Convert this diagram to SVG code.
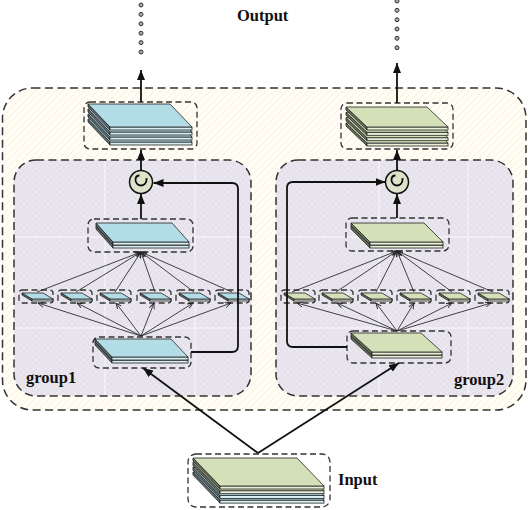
<svg xmlns="http://www.w3.org/2000/svg" width="528" height="510" viewBox="0 0 528 510">
<style>
.lbl{font-family:"Liberation Serif","Times New Roman",serif;font-weight:bold;font-size:16.5px;fill:#111}
.dash{fill:none;stroke:#333;stroke-width:1.3;stroke-dasharray:6 3.5}
.big{stroke:#333;stroke-width:1.5;stroke-dasharray:8 4.5}
.bt{fill:#b2dce6;stroke:#222;stroke-width:0.8}
.bf{fill:#d9eef2;stroke:#222;stroke-width:0.8}
.bs{fill:#5f6d72;stroke:#222;stroke-width:0.8}
.gt{fill:#d4e0b8;stroke:#222;stroke-width:0.8}
.gf{fill:#e9efd8;stroke:#222;stroke-width:0.8}
.gs{fill:#66705a;stroke:#222;stroke-width:0.8}
.main{fill:none;stroke:#111;stroke-width:1.8}
.thin{fill:none;stroke:#222;stroke-width:0.85}
.grid{stroke:#ffffff;stroke-width:1;opacity:0.8}
.dot{fill:#aaa;stroke:#333;stroke-width:1}
</style>
<defs>
<pattern id="hy" patternUnits="userSpaceOnUse" width="7" height="7">
<rect width="7" height="7" fill="#fffdf6"/>
<path d="M0,7 L7,0 M-1,1 L1,-1 M6,8 L8,6" stroke="#f5ecc8" stroke-width="0.7"/>
</pattern>
<pattern id="hx" patternUnits="userSpaceOnUse" width="6" height="6">
<rect width="6" height="6" fill="#e6e2ec"/>
<path d="M0,0 L6,6 M0,6 L6,0" stroke="#efedf3" stroke-width="0.6"/>
</pattern>
<marker id="ah" viewBox="0 0 10 8" refX="10" refY="4" markerWidth="10" markerHeight="8" markerUnits="userSpaceOnUse" orient="auto">
<path d="M0,0 L10,4 L0,8 z" fill="#111"/>
</marker>
<marker id="oh" viewBox="0 0 6 6" refX="6" refY="3" markerWidth="6" markerHeight="6" markerUnits="userSpaceOnUse" orient="auto">
<path d="M0,0.5 L6,3 L0,5.5" fill="none" stroke="#222" stroke-width="0.9"/>
</marker>
</defs>

<g id="outer-box">
<rect x="2.5" y="88" width="523.5" height="322" rx="30" fill="url(#hy)" class="big"/>
</g>
<g id="group1-box">
<rect x="14" y="160" width="237" height="236" rx="22" fill="url(#hx)"/>
<path d="M105,161 V395 M195,161 V395 M15,237 H250 M15,328 H250" class="grid"/>
<rect x="14" y="160" width="237" height="236" rx="22" fill="none" class="big"/>
<text class="lbl" x="26" y="383">group1</text>
</g>
<g id="group2-box">
<rect x="276" y="160" width="237" height="236" rx="22" fill="url(#hx)"/>
<path d="M379,161 V395 M468,161 V395 M277,237 H512 M277,328 H512" class="grid"/>
<rect x="276" y="160" width="237" height="236" rx="22" fill="none" class="big"/>
<text class="lbl" x="454" y="385">group2</text>
</g>

<g id="output-label"><text class="lbl" x="237" y="21">Output</text></g>

<g id="out1">
<rect x="84" y="102" width="113" height="47" rx="6" class="dash"/>
<g transform="translate(88,119)"><path class="bs" d="M0,0 L22,23 L22,26 L0,3 Z"/><rect class="bf" x="22" y="23" width="82" height="3"/><path class="bt" d="M0,0 H82 L104,23 H22 Z"/></g>
<g transform="translate(88,114)"><path class="bs" d="M0,0 L22,23 L22,26 L0,3 Z"/><rect class="bf" x="22" y="23" width="82" height="3"/><path class="bt" d="M0,0 H82 L104,23 H22 Z"/></g>
<g transform="translate(88,109)"><path class="bs" d="M0,0 L22,23 L22,26 L0,3 Z"/><rect class="bf" x="22" y="23" width="82" height="3"/><path class="bt" d="M0,0 H82 L104,23 H22 Z"/></g>
<g transform="translate(88,104)"><path class="bs" d="M0,0 L22,23 L22,26 L0,3 Z"/><rect class="bf" x="22" y="23" width="82" height="3"/><path class="bt" d="M0,0 H82 L104,23 H22 Z"/></g>
</g>

<g id="out2">
<rect x="341" y="103" width="112" height="46" rx="6" class="dash"/>
<g transform="translate(346,123)"><path class="gs" d="M0,0 L21,20 L21,23 L0,3 Z"/><rect class="gf" x="21" y="20" width="81" height="3"/><path class="gt" d="M0,0 H81 L102,20 H21 Z"/></g>
<g transform="translate(346,117.7)"><path class="gs" d="M0,0 L21,20 L21,23 L0,3 Z"/><rect class="gf" x="21" y="20" width="81" height="3"/><path class="gt" d="M0,0 H81 L102,20 H21 Z"/></g>
<g transform="translate(346,112.3)"><path class="gs" d="M0,0 L21,20 L21,23 L0,3 Z"/><rect class="gf" x="21" y="20" width="81" height="3"/><path class="gt" d="M0,0 H81 L102,20 H21 Z"/></g>
<g transform="translate(346,107)"><path class="gs" d="M0,0 L21,20 L21,23 L0,3 Z"/><rect class="gf" x="21" y="20" width="81" height="3"/><path class="gt" d="M0,0 H81 L102,20 H21 Z"/></g>
</g>

<g id="concat1">
<circle cx="141" cy="182" r="11.5" fill="#dfe2cb" stroke="#111" stroke-width="1.5"/>
<path d="M139.5,175.5 Q135.5,175.5 135.5,180 A5.5,5.5 0 0 0 146.5,180 V178" fill="none" stroke="#111" stroke-width="1.8"/>
</g>
<g id="concat2">
<circle cx="397" cy="182" r="11.5" fill="#dfe2cb" stroke="#111" stroke-width="1.5"/>
<path d="M395.5,175.5 Q391.5,175.5 391.5,180 A5.5,5.5 0 0 0 402.5,180 V178" fill="none" stroke="#111" stroke-width="1.8"/>
</g>

<g id="g1-mid">
<rect x="88" y="219" width="105" height="33" rx="6" class="dash"/>
<g transform="translate(96,226)"><path class="bs" d="M0,0 L17,19 L17,22 L0,3 Z"/><rect class="bf" x="17" y="19" width="76" height="3" fill="#9fb0b5"/><path class="bt" d="M0,0 H76 L93,19 H17 Z"/></g>
<g transform="translate(96,223)"><path class="bs" d="M0,0 L17,19 L17,22 L0,3 Z"/><rect class="bf" x="17" y="19" width="76" height="3"/><path class="bt" d="M0,0 H76 L93,19 H17 Z"/></g>
</g>
<g id="g1-bottom">
<rect x="93" y="337" width="98" height="31" rx="6" class="dash"/>
<g transform="translate(95,342)"><path class="bs" d="M0,0 L17,18 L17,21 L0,3 Z"/><rect class="bf" x="17" y="18" width="76" height="3"/><path class="bt" d="M0,0 H76 L93,18 H17 Z"/></g>
<g transform="translate(95,339)"><path class="bs" d="M0,0 L17,18 L17,21 L0,3 Z"/><rect class="bf" x="17" y="18" width="76" height="3"/><path class="bt" d="M0,0 H76 L93,18 H17 Z"/></g>
</g>
<g id="g2-mid">
<rect x="346" y="218" width="103" height="33" rx="6" class="dash"/>
<g transform="translate(351,226)"><path class="gs" d="M0,0 L19,19 L19,22 L0,3 Z"/><rect class="gf" x="19" y="19" width="73" height="3"/><path class="gt" d="M0,0 H73 L92,19 H19 Z"/></g>
<g transform="translate(351,223)"><path class="gs" d="M0,0 L19,19 L19,22 L0,3 Z"/><rect class="gf" x="19" y="19" width="73" height="3"/><path class="gt" d="M0,0 H73 L92,19 H19 Z"/></g>
</g>
<g id="g2-bottom">
<rect x="347" y="331" width="104" height="32" rx="6" class="dash"/>
<g transform="translate(351,336)"><path class="gs" d="M0,0 L21,19 L21,22 L0,3 Z"/><rect class="gf" x="21" y="19" width="70" height="3"/><path class="gt" d="M0,0 H70 L91,19 H21 Z"/></g>
<g transform="translate(351,333)"><path class="gs" d="M0,0 L21,19 L21,22 L0,3 Z"/><rect class="gf" x="21" y="19" width="70" height="3"/><path class="gt" d="M0,0 H70 L91,19 H21 Z"/></g>
</g>

<g id="g1-branches">
<g transform="translate(19,290)"><rect width="34" height="13" rx="3" class="dash"/><path class="bs" d="M3,3 L13,9 L13,11 L3,5 Z"/><rect class="bf" x="13" y="9" width="21" height="2"/><path class="bt" d="M3,3 H24 L34,9 H13 Z"/></g>
<g transform="translate(58,290)"><rect width="34" height="13" rx="3" class="dash"/><path class="bs" d="M3,3 L13,9 L13,11 L3,5 Z"/><rect class="bf" x="13" y="9" width="21" height="2"/><path class="bt" d="M3,3 H24 L34,9 H13 Z"/></g>
<g transform="translate(97,290)"><rect width="34" height="13" rx="3" class="dash"/><path class="bs" d="M3,3 L13,9 L13,11 L3,5 Z"/><rect class="bf" x="13" y="9" width="21" height="2"/><path class="bt" d="M3,3 H24 L34,9 H13 Z"/></g>
<g transform="translate(137,290)"><rect width="34" height="13" rx="3" class="dash"/><path class="bs" d="M3,3 L13,9 L13,11 L3,5 Z"/><rect class="bf" x="13" y="9" width="21" height="2"/><path class="bt" d="M3,3 H24 L34,9 H13 Z"/></g>
<g transform="translate(176,290)"><rect width="34" height="13" rx="3" class="dash"/><path class="bs" d="M3,3 L13,9 L13,11 L3,5 Z"/><rect class="bf" x="13" y="9" width="21" height="2"/><path class="bt" d="M3,3 H24 L34,9 H13 Z"/></g>
<g transform="translate(215,290)"><rect width="34" height="13" rx="3" class="dash"/><path class="bs" d="M3,3 L13,9 L13,11 L3,5 Z"/><rect class="bf" x="13" y="9" width="21" height="2"/><path class="bt" d="M3,3 H24 L34,9 H13 Z"/></g>
</g>
<g id="g2-branches">
<g transform="translate(281,290)"><rect width="34" height="13" rx="3" class="dash"/><path class="gs" d="M3,3 L13,9 L13,11 L3,5 Z"/><rect class="gf" x="13" y="9" width="21" height="2"/><path class="gt" d="M3,3 H24 L34,9 H13 Z"/></g>
<g transform="translate(319,290)"><rect width="34" height="13" rx="3" class="dash"/><path class="gs" d="M3,3 L13,9 L13,11 L3,5 Z"/><rect class="gf" x="13" y="9" width="21" height="2"/><path class="gt" d="M3,3 H24 L34,9 H13 Z"/></g>
<g transform="translate(358,290)"><rect width="34" height="13" rx="3" class="dash"/><path class="gs" d="M3,3 L13,9 L13,11 L3,5 Z"/><rect class="gf" x="13" y="9" width="21" height="2"/><path class="gt" d="M3,3 H24 L34,9 H13 Z"/></g>
<g transform="translate(397,290)"><rect width="34" height="13" rx="3" class="dash"/><path class="gs" d="M3,3 L13,9 L13,11 L3,5 Z"/><rect class="gf" x="13" y="9" width="21" height="2"/><path class="gt" d="M3,3 H24 L34,9 H13 Z"/></g>
<g transform="translate(436,290)"><rect width="34" height="13" rx="3" class="dash"/><path class="gs" d="M3,3 L13,9 L13,11 L3,5 Z"/><rect class="gf" x="13" y="9" width="21" height="2"/><path class="gt" d="M3,3 H24 L34,9 H13 Z"/></g>
<g transform="translate(475,290)"><rect width="34" height="13" rx="3" class="dash"/><path class="gs" d="M3,3 L13,9 L13,11 L3,5 Z"/><rect class="gf" x="13" y="9" width="21" height="2"/><path class="gt" d="M3,3 H24 L34,9 H13 Z"/></g>
</g>

<g id="input">
<rect x="188" y="454" width="142" height="53" rx="8" class="dash"/>
<g transform="translate(193,472.1)"><path class="bs" d="M0,0 L27,28 L27,31 L0,3 Z"/><rect class="bf" x="27" y="28" width="104" height="3"/><path class="bt" d="M0,0 H104 L131,28 H27 Z"/></g>
<g transform="translate(193,467.4)"><path class="bs" d="M0,0 L27,28 L27,31 L0,3 Z"/><rect class="bf" x="27" y="28" width="104" height="3"/><path class="bt" d="M0,0 H104 L131,28 H27 Z"/></g>
<g transform="translate(193,462.7)"><path class="gs" d="M0,0 L27,28 L27,31 L0,3 Z"/><rect class="gf" x="27" y="28" width="104" height="3"/><path class="gt" d="M0,0 H104 L131,28 H27 Z"/></g>
<g transform="translate(193,458)"><path class="gs" d="M0,0 L27,28 L27,31 L0,3 Z"/><rect class="gf" x="27" y="28" width="104" height="3"/><path class="gt" d="M0,0 H104 L131,28 H27 Z"/></g>
<text class="lbl" x="338" y="485">Input</text>
</g>

<g id="connectors">
<g class="thin" marker-end="url(#oh)">
<path d="M141,336 L38,303"/><path d="M141,336 L77,303"/><path d="M141,336 L116,303"/><path d="M141,336 L154,303"/><path d="M141,336 L193,303"/><path d="M141,336 L231,303"/>
<path d="M37,292 L141,252"/><path d="M76,292 L141,252"/><path d="M115,292 L141,252"/><path d="M155,292 L141,252"/><path d="M194,292 L141,252"/><path d="M232,292 L141,252"/>
<path d="M397,331 L297,303"/><path d="M397,331 L337,303"/><path d="M397,331 L376,303"/><path d="M397,331 L414,303"/><path d="M397,331 L452,303"/><path d="M397,331 L491,303"/>
<path d="M292,292 L397,251"/><path d="M336,292 L397,251"/><path d="M376,292 L397,251"/><path d="M414,292 L397,251"/><path d="M452,292 L397,251"/><path d="M493,292 L397,251"/>
</g>
<g class="main" marker-end="url(#ah)">
<path d="M141,219 V194"/>
<path d="M141,170 V150"/>
<path d="M141,102 V70"/>
<path d="M191,352 H232 Q238,352 238,346 V189 Q238,183 232,183 H153.5"/>
<path d="M397,218 V194"/>
<path d="M397,170 V150"/>
<path d="M397,103 V63"/>
<path d="M347,347 H293 Q287,347 287,341 V188 Q287,182 293,182 H385.5"/>
<path d="M258,453 L143,368"/>
<path d="M258,453 L399,363"/>
</g>
<g>
<circle class="dot" cx="141" cy="5" r="2"/><circle class="dot" cx="141" cy="14.4" r="2"/><circle class="dot" cx="141" cy="23.8" r="2"/><circle class="dot" cx="141" cy="33.2" r="2"/><circle class="dot" cx="141" cy="42.6" r="2"/><circle class="dot" cx="141" cy="52" r="2"/>
<circle class="dot" cx="397" cy="1" r="2"/><circle class="dot" cx="397" cy="10.3" r="2"/><circle class="dot" cx="397" cy="19.7" r="2"/><circle class="dot" cx="397" cy="29" r="2"/><circle class="dot" cx="397" cy="38.3" r="2"/><circle class="dot" cx="397" cy="47.7" r="2"/>
</g>
</g>
</svg>
